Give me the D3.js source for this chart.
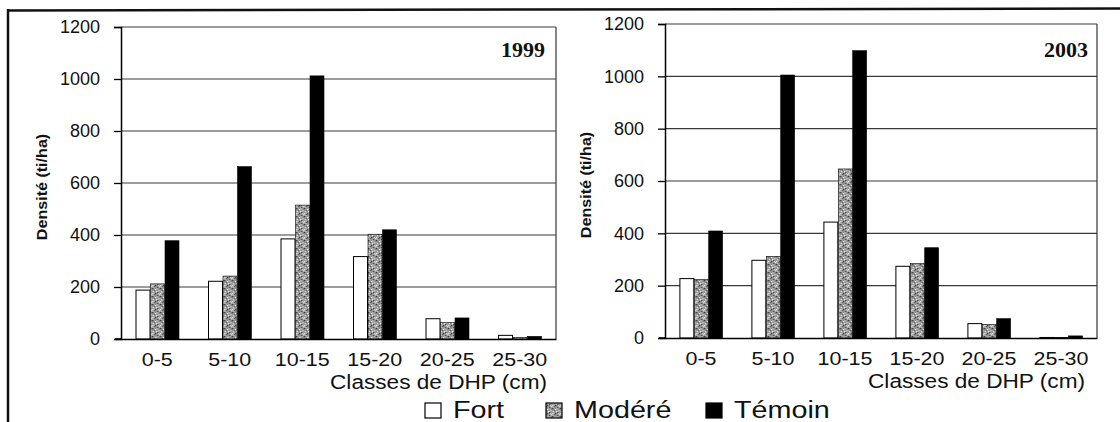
<!DOCTYPE html>
<html><head><meta charset="utf-8">
<script src="https://cdn.jsdelivr.net/npm/d3@7"></script>
<style>
html,body{margin:0;padding:0;background:#fff;}
svg{display:block;}
text{font-family:"Liberation Sans",Arial,sans-serif;fill:#111;}
</style></head>
<body>
<svg id="chart" width="1120" height="422"></svg>
<script>
const categories = ["0-5","5-10","10-15","15-20","20-25","25-30"];
const seriesNames = ["Fort","Modéré","Témoin"];
const yTicks = [0,200,400,600,800,1000,1200];
const fort1999   = [188, 222, 385, 317, 78, 14];
const modere1999 = [212, 242, 515, 403, 63, 6];
const temoin1999 = [378, 663, 1012, 420, 81, 10];
const fort2003   = [227, 297, 443, 274, 55, 2];
const modere2003 = [223, 312, 646, 284, 52, 2];
const temoin2003 = [409, 1005, 1098, 345, 74, 8];
const panelTitles = ["1999","2003"];
const xTitle = "Classes de DHP (cm)";
const yTitle = "Densité (ti/ha)";

const svg = d3.select("#chart");
const defs = svg.append("defs");
// stippled gray texture for "Modéré"
const pat = defs.append("pattern").attr("id","stipple").attr("patternUnits","userSpaceOnUse")
  .attr("width",8).attr("height",8);
pat.append("rect").attr("width",8).attr("height",8).attr("fill","#9a9a9a");
const dots = [
  [0,0,"#3c3c3c"],[3,1,"#dcdcdc"],[1,3,"#d4d4d4"],[5,4,"#444"],[2,6,"#5c5c5c"],[6,2,"#c4c4c4"],
  [0,5,"#e2e2e2"],[4,0,"#b4b4b4"],[2,2,"#666"],[7,6,"#d8d8d8"],[5,7,"#505050"],[7,0,"#777"],
  [4,3,"#e6e6e6"],[1,7,"#bbb"],[6,5,"#ccc"],[3,5,"#4a4a4a"]];
dots.forEach(d=>pat.append("rect").attr("x",d[0]).attr("y",d[1]).attr("width",1.3).attr("height",1.3).attr("fill",d[2]));

const fills = ["#ffffff","url(#stipple)","#000000"];

// outer frame
svg.append("line").attr("x1",7).attr("x2",1120).attr("y1",10.5).attr("y2",8.5).attr("stroke","#111").attr("stroke-width",2.5);
svg.append("line").attr("x1",8).attr("x2",8).attr("y1",9).attr("y2",422).attr("stroke","#111").attr("stroke-width",2.5);

const panels = [
  {x0:121, x1:556, y0:339, y1:27, title:panelTitles[0], data:[fort1999,modere1999,temoin1999], titleX:545, titleY:57, xtX:547},
  {x0:665, x1:1097, y0:338, y1:24, title:panelTitles[1], data:[fort2003,modere2003,temoin2003], titleX:1088, titleY:57, xtX:1085}
];

panels.forEach(p=>{
  const g = svg.append("g");
  const x = d3.scaleBand().domain(categories).range([p.x0,p.x1]).padding(0);
  const xs = d3.scaleBand().domain(seriesNames).range([x.bandwidth()*0.2, x.bandwidth()*0.8]).padding(0);
  const y = d3.scaleLinear().domain([0,1200]).range([p.y0,p.y1]);

  // gridlines
  g.append("g").selectAll("line").data(yTicks.filter(t=>t>0)).join("line")
    .attr("x1",p.x0).attr("x2",p.x1).attr("y1",d=>y(d)).attr("y2",d=>y(d))
    .attr("stroke","#3a3a3a").attr("stroke-width",1.2);
  // right border
  g.append("line").attr("x1",p.x1).attr("x2",p.x1).attr("y1",p.y1).attr("y2",p.y0)
    .attr("stroke","#444").attr("stroke-width",1.3);

  // bars
  seriesNames.forEach((s,si)=>{
    g.append("g").selectAll("rect").data(categories).join("rect")
      .attr("x",c=>x(c)+xs(s)+0.5)
      .attr("width",xs.bandwidth()-0.5)
      .attr("y",(c,i)=>y(p.data[si][i]))
      .attr("height",(c,i)=>p.y0-y(p.data[si][i]))
      .attr("fill",fills[si])
      .attr("stroke","#000").attr("stroke-width",si===0?1:0.6);
  });

  // y axis
  const ya = g.append("g").attr("transform",`translate(${p.x0},0)`)
    .call(d3.axisLeft(y).tickValues(yTicks).tickSize(7).tickPadding(14).tickFormat(d3.format("d")));
  ya.select(".domain").attr("stroke","#000").attr("stroke-width",1.5);
  ya.selectAll(".tick line").attr("stroke","#000").attr("stroke-width",1.3);
  ya.selectAll(".tick text").style("font-size","18px").attr("fill","#111");

  // x axis
  const xa = g.append("g").attr("transform",`translate(0,${p.y0})`)
    .call(d3.axisBottom(x).tickSize(0).tickPadding(14));
  xa.select(".domain").attr("stroke","#000").attr("stroke-width",1.5);
  xa.selectAll(".tick text").style("font-size","19px").attr("fill","#111")
    .attr("transform","scale(1.13,1)");
  // extend baseline slightly left
  g.append("line").attr("x1",p.x0-6).attr("x2",p.x0).attr("y1",p.y0).attr("y2",p.y0).attr("stroke","#000").attr("stroke-width",1.5);

  // titles
  g.append("text").attr("transform",`translate(${p.xtX},${p.y0+50}) scale(1.16,1)`).attr("text-anchor","end")
    .style("font-size","19.5px").text(xTitle);
  g.append("text").attr("transform",`translate(${p.x0-74},${(p.y0+p.y1)/2+4}) rotate(-90) scale(1.15,1)`)
    .attr("text-anchor","middle").style("font-size","14px").style("font-weight","bold").text(yTitle);
  g.append("text").attr("x",p.titleX).attr("y",p.titleY).attr("text-anchor","end")
    .style("font-family","'Liberation Serif','Times New Roman',serif").style("font-weight","bold")
    .style("font-size","22px").text(p.title);
});

// legend
const legendX = [425, 546, 706];
const lg = svg.append("g");
seriesNames.forEach((s,i)=>{
  lg.append("rect").attr("x",legendX[i]).attr("y",403).attr("width",16).attr("height",15)
    .attr("fill",fills[i]).attr("stroke","#000").attr("stroke-width",1.2);
  lg.append("text").attr("transform",`translate(${legendX[i]+28},418) scale(1.25,1)`)
    .style("font-size","23px").text(s);
});
</script>
</body></html>
